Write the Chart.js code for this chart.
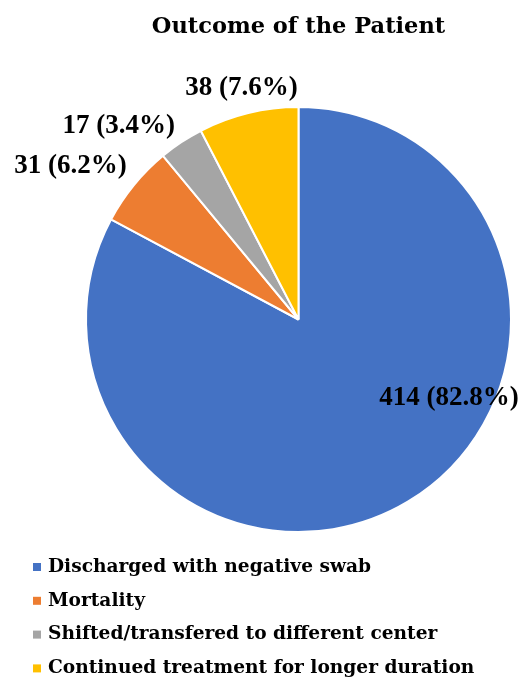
<!DOCTYPE html>
<html>
<head>
    <title>Outcome of the Patient</title>
    <script src="https://cdn.jsdelivr.net/npm/chart.js"></script>
    <style>
        body { margin: 0; background: #fff; }
    </style>
</head>
<body>
    <canvas id="myChart" width="527" height="678"></canvas>
    <script>
        // Данные
        const chartTitle = 'Outcome of the Patient';
        const categories = [
            'Discharged with negative swab',
            'Mortality',
            'Shifted/transfered to different center',
            'Continued treatment for longer duration'
        ];
        const patients = [414, 31, 17, 38];
        const percents = ['82.8%', '6.2%', '3.4%', '7.6%'];
        const colors = ['#4472C4', '#ED7D31', '#A5A5A5', '#FFC000'];

        // Подписи к секторам (внутри для большого, снаружи для малых)
        const labelPlugin = {
            id: 'sliceLabels',
            afterDatasetsDraw(chart, args, opts) {
                const ctx = chart.ctx;
                const meta = chart.getDatasetMeta(0);
                ctx.save();
                ctx.font = opts.font;
                ctx.fillStyle = '#000';
                ctx.textAlign = 'center';
                ctx.textBaseline = 'middle';
                meta.data.forEach((arc, i) => {
                    const p = arc.getProps(['x', 'y', 'startAngle', 'endAngle', 'outerRadius']);
                    const mid = (p.startAngle + p.endAngle) / 2;
                    const text = patients[i] + ' (' + percents[i] + ')';
                    const w = ctx.measureText(text).width;
                    const h = 22;
                    let cx, cy;
                    if (opts.inside[i]) {
                        cx = p.x + Math.cos(mid) * p.outerRadius * 0.8;
                        cy = p.y + Math.sin(mid) * p.outerRadius * 0.8;
                    } else {
                        const r = p.outerRadius + 10;
                        cx = p.x + Math.cos(mid) * r + Math.cos(mid) * w / 2;
                        cy = p.y + Math.sin(mid) * r + Math.sin(mid) * h / 2;
                    }
                    const n = opts.nudge[i];
                    ctx.fillText(text, cx + n[0], cy + n[1]);
                });
                ctx.restore();
            }
        };

        // Заголовок и легенда снизу
        const titleLegendPlugin = {
            id: 'titleLegend',
            afterDraw(chart) {
                const ctx = chart.ctx;
                const meta = chart.getDatasetMeta(0);
                const cx = meta.data[0].x;
                ctx.save();
                ctx.fillStyle = '#000';
                ctx.font = 'bold 22.5px "DejaVu Serif"';
                ctx.textAlign = 'center';
                ctx.textBaseline = 'alphabetic';
                ctx.fillText(chartTitle, cx, 33);

                ctx.font = 'bold 18.6px "DejaVu Serif"';
                ctx.textAlign = 'left';
                ctx.textBaseline = 'middle';
                categories.forEach((c, i) => {
                    const y = 567 + i * 33.8;
                    ctx.fillStyle = colors[i];
                    ctx.fillRect(33, y - 4, 8, 8);
                    ctx.fillStyle = '#000';
                    ctx.fillText(c, 48, y);
                });
                ctx.restore();
            }
        };

        const config = {
            type: 'pie',
            data: {
                labels: categories,
                datasets: [{
                    data: patients,
                    backgroundColor: colors,
                    borderColor: '#ffffff',
                    borderWidth: 2
                }]
            },
            options: {
                responsive: false,
                animation: false,
                layout: {
                    padding: { left: 84, right: 14, top: 106, bottom: 145 }
                },
                plugins: {
                    legend: { display: false },
                    title: { display: false },
                    tooltip: { enabled: false },
                    sliceLabels: {
                        font: 'bold 27px "Liberation Serif"',
                        inside: [true, false, false, false],
                        nudge: [[63, -67], [-12, -6], [-26, 1], [9, -5]]
                    }
                }
            },
            plugins: [labelPlugin, titleLegendPlugin]
        };

        const myChart = new Chart(document.getElementById('myChart'), config);
    </script>
</body>
</html>
